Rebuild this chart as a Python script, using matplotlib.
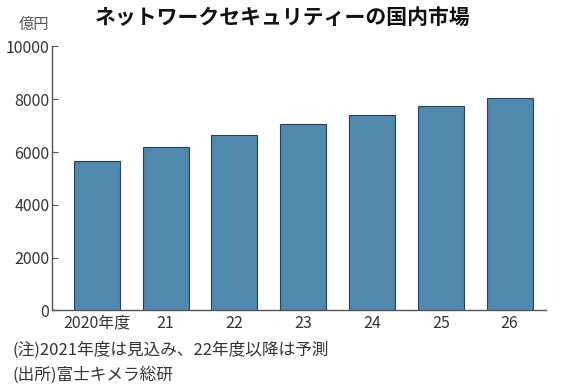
import matplotlib
matplotlib.use("Agg")
import matplotlib.pyplot as plt

plt.rcParams['font.family'] = ['Noto Sans CJK JP', 'DejaVu Sans']

# data (億円)
years = ["2020年度", "21", "22", "23", "24", "25", "26"]
market = [5650, 6200, 6650, 7050, 7400, 7750, 8030]
yticks = [0, 2000, 4000, 6000, 8000, 10000]

title = "ネットワークセキュリティーの国内市場"
unit = "億円"
note = "(注)2021年度は見込み、22年度以降は予測"
source = "(出所)富士キメラ総研"

fig = plt.figure(figsize=(5.66, 3.89), dpi=100)
ax = fig.add_axes([0.092, 0.2018, 0.8727, 0.6787])

x = range(len(years))
ax.bar(x, market, width=0.67, color="#5088ae", edgecolor="#24405a", linewidth=0.8)

ax.set_ylim(0, 10000)
ax.set_xlim(-0.65, 6.53)
ax.set_yticks(yticks)
ax.set_yticklabels([str(t) for t in yticks])
ax.set_xticks(list(x))
ax.set_xticklabels(years)

for s in ["top", "right"]:
    ax.spines[s].set_visible(False)
for s in ["left", "bottom"]:
    ax.spines[s].set_color("#555555")
    ax.spines[s].set_linewidth(1.0)

ax.tick_params(axis="y", direction="in", length=4, color="#555555",
               labelsize=11.5, labelcolor="#333333", pad=2)
ax.tick_params(axis="x", length=0, labelsize=11.5, labelcolor="#333333", pad=3)

fig.text(0.499, 0.955, title, ha="center", va="center", fontsize=15,
         fontweight="bold", color="#111111")
fig.text(0.06, 0.938, unit, ha="center", va="center", fontsize=11,
         color="#555555")
fig.text(0.022, 0.100, note, ha="left", va="center", fontsize=12, color="#333333")
fig.text(0.022, 0.037, source, ha="left", va="center", fontsize=12, color="#333333")

fig.savefig("out.png", dpi=100)
